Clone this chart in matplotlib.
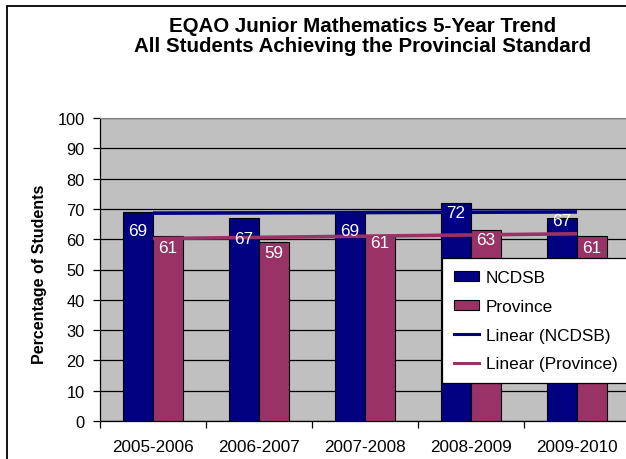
import numpy as np
import matplotlib
matplotlib.use("Agg")
import matplotlib.pyplot as plt
from matplotlib.patches import Rectangle, Patch
from matplotlib.lines import Line2D

plt.rcParams['font.family'] = ['Liberation Sans', 'DejaVu Sans']

# data
years = ['2005-2006', '2006-2007', '2007-2008', '2008-2009', '2009-2010']
ncdsb = [69, 67, 69, 72, 67]
province = [61, 59, 61, 63, 61]

# label nudges (pixels below the bar top), as placed in the original
ncdsb_lab_off = [19, 21, 19, 10, 3]
prov_lab_off = [11, 10, 6, 9, 11]

navy = '#000080'
plum = '#993366'
W, H = 626, 460

fig = plt.figure(figsize=(W / 100, H / 100), dpi=100)
ax = fig.add_axes([100 / W, 38 / H, 530 / W, 303 / H])
ax.set_facecolor('#C0C0C0')

x = np.arange(len(years))
bw = 0.285
ax.bar(x - bw / 2, ncdsb, bw, color=navy, edgecolor='black', linewidth=0.8, zorder=3)
ax.bar(x + bw / 2, province, bw, color=plum, edgecolor='black', linewidth=0.8, zorder=3)

# linear trend lines across group centres
for vals, c in [(ncdsb, navy), (province, plum)]:
    k, b = np.polyfit(x, vals, 1)
    ax.plot(x, k * x + b, color=c, lw=2.6, zorder=4, solid_capstyle='butt')

for i in range(len(years)):
    ax.annotate(str(ncdsb[i]), (x[i] - bw / 2, ncdsb[i]), xytext=(0, -ncdsb_lab_off[i] * 0.72),
                textcoords='offset points', ha='center', va='center', color='white', fontsize=12.3, zorder=5)
    ax.annotate(str(province[i]), (x[i] + bw / 2, province[i]), xytext=(0, -prov_lab_off[i] * 0.72),
                textcoords='offset points', ha='center', va='center', color='white', fontsize=12.3, zorder=5)

ax.set_ylim(0, 100)
ax.set_xlim(-0.5, len(years) - 0.5)
ax.set_yticks(range(0, 101, 10))
ax.yaxis.grid(True, color='black', lw=0.9, zorder=1)
ax.set_axisbelow(True)
ax.tick_params(axis='y', direction='out', length=5, width=0.9, labelsize=11.8, pad=6)

ax.set_xticks(x)
ax.set_xticklabels(years)
ax.set_xticks(np.arange(-0.5, len(years), 1), minor=True)
ax.tick_params(axis='x', which='major', length=0, labelsize=12.3, pad=13)
ax.tick_params(axis='x', which='minor', direction='out', length=5, width=0.9)

for s in ['left', 'bottom']:
    ax.spines[s].set_color('black')
    ax.spines[s].set_linewidth(0.9)
ax.spines['top'].set_color('#808080')
ax.spines['right'].set_visible(False)

fig.text(40 / W, 1 - 274 / H, 'Percentage of Students', rotation=90, ha='center', va='center',
         fontsize=11.5, fontweight='bold')

fig.text(363 / W, 1 - 32 / H, 'EQAO Junior Mathematics 5-Year Trend', ha='center', va='baseline',
         fontsize=14.8, fontweight='bold')
fig.text(363 / W, 1 - 52 / H, 'All Students Achieving the Provincial Standard', ha='center', va='baseline',
         fontsize=14.8, fontweight='bold')

handles = [Patch(facecolor=navy, edgecolor='black', lw=0.8),
           Patch(facecolor=plum, edgecolor='black', lw=0.8),
           Line2D([0], [0], color=navy, lw=2.2),
           Line2D([0], [0], color=plum, lw=2.2)]
labels = ['NCDSB', 'Province', 'Linear (NCDSB)', 'Linear (Province)']
leg = fig.legend(handles, labels, loc='upper left', bbox_to_anchor=(442 / W, 1 - 259 / H),
                 bbox_transform=fig.transFigure, borderaxespad=0, fontsize=12.4, frameon=True,
                 fancybox=False, framealpha=1, edgecolor='black', handlelength=1.45,
                 handleheight=0.55, handletextpad=0.4, labelspacing=0.8, borderpad=0.7)
leg.get_frame().set_linewidth(0.9)

# outer chart border
fig.add_artist(Rectangle((7 / W, -0.1), 2, 1 - 7 / H + 0.1, transform=fig.transFigure,
                         fill=False, ec='black', lw=1.3))

fig.savefig('out.png', dpi=100)
